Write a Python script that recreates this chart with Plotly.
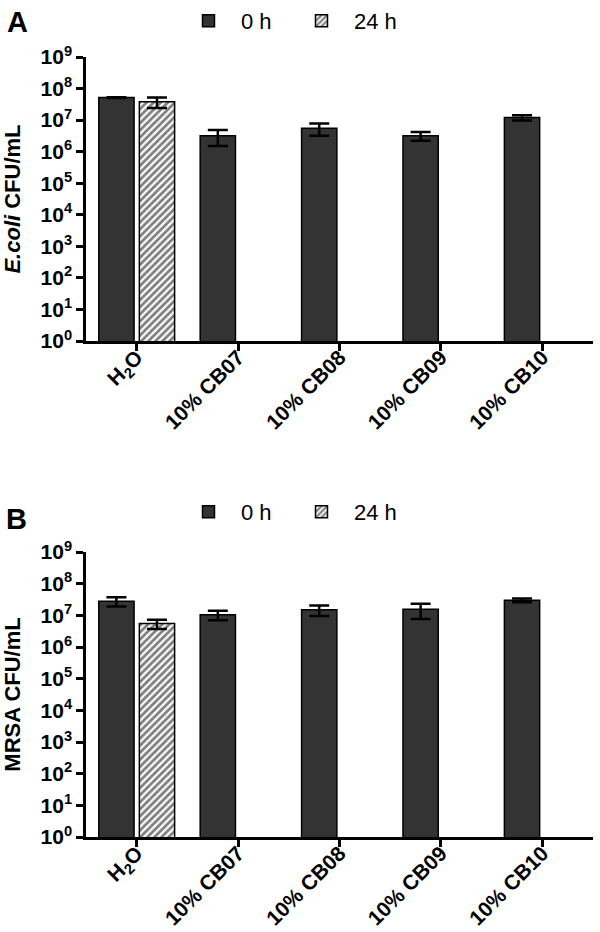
import plotly.graph_objects as go

categories = ["H<sub>2</sub>O", "10% CB07", "10% CB08", "10% CB09", "10% CB10"]

# Panel A: E.coli CFU/mL
ecoli_0h = [5.2e7, 3.2e6, 5.5e6, 3.2e6, 1.2e7]
ecoli_0h_err = [1.5e6, 1.7e6, 2.3e6, 1.0e6, 2.3e6]
ecoli_24h = [3.8e7, None, None, None, None]
ecoli_24h_err = [1.4e7, None, None, None, None]

# Panel B: MRSA CFU/mL
mrsa_0h = [2.8e7, 1.05e7, 1.5e7, 1.55e7, 3.0e7]
mrsa_0h_err = [9e6, 3.5e6, 5.5e6, 7.8e6, 4e6]
mrsa_24h = [5.5e6, None, None, None, None]
mrsa_24h_err = [1.8e6, None, None, None, None]

ytick_vals = [10 ** i for i in range(10)]
ytick_text = ["10<sup>%d</sup>" % i for i in range(10)]

FONT = "Liberation Sans, Arial, sans-serif"
DARK = "#333333"

fig = go.Figure()

def add_panel(fig, y0h, e0h, y24, e24, xa, ya, legend):
    fig.add_trace(go.Bar(
        x=categories, y=y0h, name="0 h", xaxis=xa, yaxis=ya, legend=legend,
        marker=dict(color=DARK, line=dict(color="black", width=1.5)),
        error_y=dict(type="data", array=e0h, color="black", thickness=2.5, width=10),
    ))
    fig.add_trace(go.Bar(
        x=categories, y=y24, name="24 h", xaxis=xa, yaxis=ya, legend=legend,
        marker=dict(color="white", line=dict(color="black", width=1.5),
                    pattern=dict(shape="/", fgcolor="black", bgcolor="white",
                                 size=5, solidity=0.55)),
        error_y=dict(type="data", array=e24, color="black", thickness=2.5, width=10),
    ))

add_panel(fig, ecoli_0h, ecoli_0h_err, ecoli_24h, ecoli_24h_err, "x", "y", "legend")
add_panel(fig, mrsa_0h, mrsa_0h_err, mrsa_24h, mrsa_24h_err, "x2", "y2", "legend2")

W, H = 600, 932
xdom = [86 / W, 593 / W]
ydomA = [1 - 341 / H, 1 - 57 / H]
ydomB = [1 - 837 / H, 1 - 552 / H]

xaxis_style = dict(
    type="category", range=[-0.5, 4.5], showline=True, linecolor="black", linewidth=2.5,
    ticks="outside", ticklen=7, tickwidth=2.5, tickcolor="black", tickangle=-45,
    ticklabelstandoff=-14,
    showgrid=False, zeroline=False, automargin=False,
    tickfont=dict(family=FONT, size=21, color="black", weight="bold"),
)
yaxis_style = dict(
    type="log", range=[0, 9], showline=True, linecolor="black", linewidth=2.5,
    ticks="outside", ticklen=7, tickwidth=2.5, tickcolor="black",
    tickvals=ytick_vals, ticktext=ytick_text, showgrid=False, zeroline=False,
    automargin=False,
    tickfont=dict(family=FONT, size=21, color="black", weight="bold"),
)

legend_style = dict(
    orientation="h", xanchor="left", yanchor="top", x=176 / W,
    font=dict(family=FONT, size=22, color="black"), bgcolor="rgba(0,0,0,0)",
    itemwidth=55, entrywidth=43, traceorder="normal",
)

title_font = dict(family=FONT, size=22, color="black", weight="bold")

fig.update_layout(
    width=W, height=H, margin=dict(l=0, r=0, t=0, b=0),
    paper_bgcolor="white", plot_bgcolor="white",
    barmode="group", bargap=0.2, bargroupgap=0.13,
    font=dict(family=FONT, color="black"),
    xaxis=dict(domain=xdom, anchor="y", **xaxis_style),
    yaxis=dict(domain=ydomA, anchor="x",
               title=dict(text="<i>E.coli</i> CFU/mL", standoff=16, font=title_font),
               **yaxis_style),
    xaxis2=dict(domain=xdom, anchor="y2", **xaxis_style),
    yaxis2=dict(domain=ydomB, anchor="x2",
                title=dict(text="MRSA CFU/mL", standoff=16, font=title_font),
                **yaxis_style),
    legend=dict(y=1.0, **legend_style),
    legend2=dict(y=1 - 491 / H, **legend_style),
    annotations=[
        dict(text="A", x=5 / W, y=1 - 22 / H, xref="paper", yref="paper",
             xanchor="left", yanchor="middle", showarrow=False,
             font=dict(family=FONT, size=29, color="black", weight="bold")),
        dict(text="B", x=4 / W, y=1 - 519 / H, xref="paper", yref="paper",
             xanchor="left", yanchor="middle", showarrow=False,
             font=dict(family=FONT, size=29, color="black", weight="bold")),
    ],
)

fig.write_html(
    "out.html",
    config={"displayModeBar": False},
    post_script="document.body.style.margin='0';document.body.style.overflow='hidden';",
)
